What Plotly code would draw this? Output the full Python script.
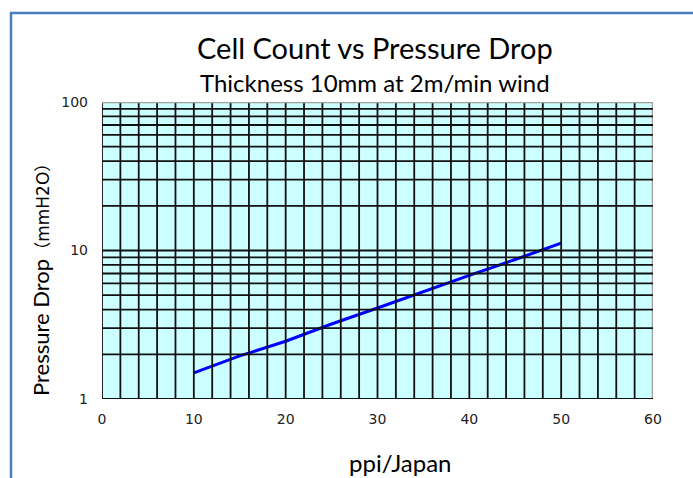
import plotly.graph_objects as go

ppi = [10, 15, 20, 25, 30, 35, 40, 45, 50]
pressure_drop = [1.5, 1.95, 2.45, 3.2, 4.1, 5.3, 6.8, 8.7, 11.2]

x_ticks = [0, 10, 20, 30, 40, 50, 60]
y_ticks = [1, 10, 100]
x_grid = list(range(0, 61, 2))
y_grid = [1, 2, 3, 4, 5, 6, 7, 8, 9, 10, 20, 30, 40, 50, 60, 70, 80, 90, 100]

W, H = 693, 478
L, R, T, B = 102, 40, 102, 79

fig = go.Figure()
fig.add_trace(go.Scatter(x=ppi, y=pressure_drop, mode="lines",
                         line=dict(color="#0000ff", width=3), showlegend=False))

tickfont = dict(family="DejaVu Sans", size=14, color="#222")
fig.update_layout(
    width=W, height=H,
    margin=dict(l=L, r=R, t=T, b=B),
    paper_bgcolor="white",
    plot_bgcolor="#ccffff",
    xaxis=dict(range=[0, 60], tickvals=x_ticks, ticktext=[str(v) for v in x_ticks],
               showgrid=False, zeroline=False, showline=False, ticks="",
               tickfont=tickfont, ticklabelstandoff=10),
    yaxis=dict(type="log", range=[0, 2], tickvals=y_ticks, ticktext=[str(v) for v in y_ticks],
               showgrid=False, zeroline=False, showline=False, ticks="",
               tickfont=tickfont, ticklabelstandoff=13),
)

shapes = []
for v in x_grid:
    if v == 60:
        line = dict(color="#a0a0a0", width=2.5)
    else:
        line = dict(color="#111", width=1.8)
    shapes.append(dict(type="line", xref="x", yref="paper", x0=v, x1=v, y0=0, y1=1,
                       line=line, layer="above"))
for v in y_grid:
    if v == 100:
        line = dict(color="#a0a0a0", width=2.5)
    else:
        line = dict(color="#111", width=1.8)
    shapes.append(dict(type="line", xref="paper", yref="y", x0=0, x1=1, y0=v, y1=v,
                       line=line, layer="above"))

pw = W - L - R
ph = H - T - B

def px_x(p):
    return (p - L) / pw

def px_y(p):
    return (H - B - p) / ph

# outer blue frame
shapes.append(dict(type="rect", xref="paper", yref="paper",
                   x0=px_x(11), x1=px_x(W + 20), y0=px_y(H + 20), y1=px_y(13),
                   line=dict(color="#4a7ebb", width=2.5), fillcolor="rgba(0,0,0,0)",
                   layer="above"))
fig.update_layout(shapes=shapes)

paren = ("<span style='font-family:Noto Sans CJK JP;font-size:17px'>（</span>"
         "<span style='font-family:DejaVu Sans;font-size:17px'>mmH2O</span>"
         "<span style='font-family:Noto Sans CJK JP;font-size:17px'>）</span>")

annotations = [
    dict(text="Cell Count vs Pressure Drop", x=px_x(375), y=px_y(48),
         font=dict(family="Lato", size=29, color="black")),
    dict(text="Thickness 10mm at 2m/min wind", x=px_x(375), y=px_y(82),
         font=dict(family="Lato", size=24, color="black")),
    dict(text="ppi/Japan", x=px_x(401), y=px_y(462),
         font=dict(family="Lato", size=24, color="black")),
    dict(text="Pressure Drop" + paren, x=px_x(40), y=px_y(276), textangle=-90,
         font=dict(family="Lato", size=22, color="black")),
]
for a in annotations:
    a.update(xref="paper", yref="paper", showarrow=False, xanchor="center", yanchor="middle")
fig.update_layout(annotations=annotations)

fig.write_html("out.html", config={"displayModeBar": False},
               post_script="document.body.style.margin='0px';document.body.style.overflow='hidden';")
